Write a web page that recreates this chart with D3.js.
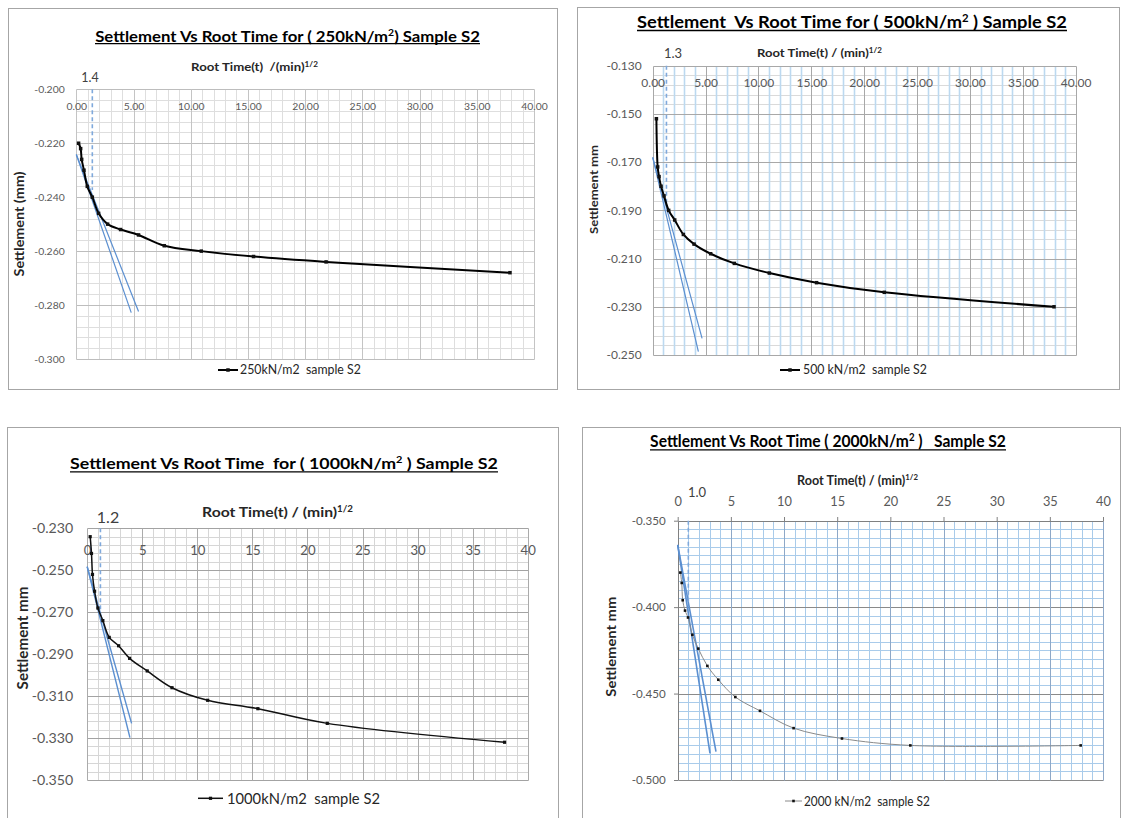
<!DOCTYPE html>
<html>
<head>
<meta charset="utf-8">
<script src="https://cdn.jsdelivr.net/npm/d3@7"></script>
<style>
  body { margin: 0; background: #fff; }
  svg { display: block; }
</style>
</head>
<body>
<svg id="chart" width="1126" height="818"></svg>
<script>
// ---- Readings: root time (min^1/2) and settlement (mm) for each load stage ----
const rootTime250 = [0.2, 0.38, 0.47, 0.67, 0.96, 1.4, 1.95, 2.74, 3.87, 5.44, 7.69, 10.92, 15.49, 21.83, 37.9];
const settlement250 = [-0.220, -0.222, -0.226, -0.230, -0.236, -0.240, -0.246, -0.250, -0.252, -0.254, -0.258, -0.260, -0.262, -0.264, -0.268];

const rootTime500 = [0.35, 0.47, 0.6, 0.79, 1.07, 1.51, 2.08, 2.9, 3.91, 5.48, 7.72, 11.03, 15.5, 21.9, 37.95];
const settlement500 = [-0.152, -0.172, -0.176, -0.180, -0.184, -0.190, -0.194, -0.200, -0.204, -0.208, -0.212, -0.216, -0.220, -0.224, -0.230];

const rootTime1000 = [0.27, 0.39, 0.48, 0.67, 0.97, 1.42, 2.0, 2.85, 3.85, 5.45, 7.7, 10.94, 15.5, 21.8, 37.9];
const settlement1000 = [-0.234, -0.242, -0.252, -0.260, -0.268, -0.274, -0.282, -0.286, -0.292, -0.298, -0.306, -0.312, -0.316, -0.323, -0.332];

const rootTime2000 = [0.25, 0.38, 0.47, 0.69, 0.97, 1.38, 1.94, 2.79, 3.82, 5.42, 7.74, 10.9, 15.45, 21.88, 37.9];
const settlement2000 = [-0.380, -0.386, -0.396, -0.402, -0.406, -0.416, -0.424, -0.434, -0.442, -0.452, -0.460, -0.470, -0.476, -0.480, -0.480];

// Taylor construction lines: initial tangent and the 1.15x line, as [root time, settlement] end points
const tangents250 = [[[0, -0.2242], [4.8, -0.2828]], [[0, -0.2242], [5.44, -0.2824]]];
const tangents500 = [[[0, -0.168], [4.32, -0.2486]], [[0, -0.168], [4.67, -0.2431]]];
const tangents1000 = [[[0, -0.2483], [3.88, -0.3298]], [[0, -0.2483], [4.03, -0.323]]];
const tangents2000 = [[[0, -0.364], [3.04, -0.4846]], [[0, -0.364], [3.6, -0.4836]]];

// Root time at 90% consolidation and the settlement where its guide stops
const t90Root = [1.4, 1.3, 1.2, 1.0];
const t90Settlement = [-0.2373, -0.1878, -0.269, -0.398];

// Axis tick values
const xTickValues = [0, 5, 10, 15, 20, 25, 30, 35, 40];
const xTickValuesMinor = d3.range(0, 41, 1);

// Text content
const titles = [
  ["Settlement Vs Root Time for ( 250kN/m", {sup: "2"}, ") Sample S2"],
  ["Settlement  Vs Root Time for ( 500kN/m", {sup: "2"}, " ) Sample S2"],
  ["Settlement Vs Root Time  for ( 1000kN/m", {sup: "2"}, " ) Sample S2"],
  ["Settlement Vs Root Time ( 2000kN/m", {sup: "2"}, " )   Sample S2"]
];
const xTitles = [
  ["Root Time(t)  /(min)", {sup: "1/2"}],
  ["Root Time(t) / (min)", {sup: "1/2"}],
  ["Root Time(t) / (min)", {sup: "1/2"}],
  ["Root Time(t) / (min)", {sup: "1/2"}]
];
const yTitles = ["Settlement (mm)", "Settlement mm", "Settlement mm", "Settlement mm"];
const legendNames = ["250kN/m2  sample S2", "500 kN/m2  sample S2", "1000kN/m2  sample S2", "2000 kN/m2  sample S2"];

// ---- Drawing ----
const FONT = "Lato, 'Open Sans', sans-serif";
const svg = d3.select("#chart");
const fmt = d3.formatLocale({decimal: ".", thousands: ",", grouping: [3], currency: ["", ""], minus: "-"});

// Text squeezed/stretched horizontally to a given width, optional superscripts and underline
function fittedText(parent, o) {
  const g = parent.append("g");
  const t = g.append("text")
    .attr("text-anchor", o.anchor || "middle")
    .attr("font-family", FONT)
    .attr("font-size", o.size)
    .attr("font-weight", o.weight || "bold")
    .attr("fill", o.fill || "#000")
    .attr("y", o.dy || 0)
    .style("white-space", "pre");
  let back = 0;
  o.segs.forEach(s => {
    const sp = t.append("tspan");
    if (typeof s === "string") {
      sp.text(s);
      if (back) { sp.attr("dy", back); back = 0; }
    } else {
      const d = -o.size * 0.38;
      sp.attr("font-size", o.size * 0.62).attr("dy", d).text(s.sup);
      back = -d;
    }
  });
  const w = t.node().getComputedTextLength();
  const k = o.width / w;
  g.attr("transform", `translate(${o.x},${o.y}) rotate(${o.rotate || 0}) scale(${k},1)`);
  if (o.ul) {
    const x0 = (o.anchor === "start") ? 0 : -w / 2;
    g.append("line")
      .attr("x1", x0).attr("x2", x0 + w)
      .attr("y1", o.ul).attr("y2", o.ul)
      .attr("stroke", o.fill || "#000").attr("stroke-width", 1.3);
  }
  return g;
}

function drawPanel(p) {
  const g = svg.append("g");
  g.append("rect")
    .attr("x", p.box[0] + 0.5).attr("y", p.box[1] + 0.5)
    .attr("width", p.box[2]).attr("height", p.box[3])
    .attr("fill", "#fff").attr("stroke", "#a6a6a6");

  const x = d3.scaleLinear().domain([0, 40]).range(p.xRange);
  const y = d3.scaleLinear().domain(p.yDomain).range(p.yRange);
  const px = v => Math.round(x(v)) + 0.5;
  const py = v => Math.round(y(v)) + 0.5;
  const [xa, xb] = [px(0), px(40)];
  const [ya, yb] = [py(p.yDomain[0]), py(p.yDomain[1])];

  const nY = Math.round((p.yDomain[0] - p.yDomain[1]) / p.yStep);
  const yVals = d3.range(nY + 1).map(i => +(p.yDomain[0] - i * p.yStep).toFixed(4));
  const yMinor = yVals.filter((v, i) => i % p.yEvery !== 0);
  const yMajor = yVals.filter((v, i) => i % p.yEvery === 0);
  const xMinor = xTickValuesMinor.filter(v => v % 5 !== 0);

  // gridlines
  const grid = g.append("g");
  grid.selectAll(null).data(yMinor).join("line")
    .attr("x1", xa).attr("x2", xb).attr("y1", py).attr("y2", py)
    .attr("stroke", p.grid.minorH).attr("stroke-width", 1);
  grid.selectAll(null).data(xMinor).join("line")
    .attr("x1", px).attr("x2", px).attr("y1", ya).attr("y2", yb)
    .attr("stroke", p.grid.minorV).attr("stroke-width", p.grid.minorVW || 1);
  grid.selectAll(null).data(yMajor).join("line")
    .attr("x1", xa).attr("x2", xb).attr("y1", py).attr("y2", py)
    .attr("stroke", p.grid.majorH).attr("stroke-width", 1);
  grid.selectAll(null).data(xTickValues).join("line")
    .attr("x1", px).attr("x2", px).attr("y1", ya).attr("y2", yb)
    .attr("stroke", p.grid.majorV).attr("stroke-width", 1);
  if (p.axisLine) {
    grid.append("line").attr("x1", xa).attr("x2", xb).attr("y1", ya).attr("y2", ya).attr("stroke", p.axisLine);
    grid.append("line").attr("x1", xa).attr("x2", xa).attr("y1", ya).attr("y2", yb).attr("stroke", p.axisLine);
  }

  // x axis labels along the top line
  const xAxis = (p.xAbove ? d3.axisTop(x) : d3.axisBottom(x))
    .tickValues(xTickValues).tickFormat(fmt.format(p.xFmt)).tickSize(p.tick || 0);
  const ax = g.append("g").attr("transform", `translate(0,${ya - 0.5})`).call(xAxis)
    .attr("font-family", FONT).attr("font-size", p.xFont);
  ax.select(".domain").remove();
  ax.selectAll(".tick line").attr("stroke", p.axisLine || "none");
  ax.selectAll("text").attr("fill", "#595959").attr("y", p.xBase - (ya - 0.5)).attr("dy", null);

  // y axis labels
  const yAxis = d3.axisLeft(y).tickValues(yMajor).tickFormat(fmt.format(".3f")).tickSize(p.tick || 0);
  const ay = g.append("g").attr("transform", `translate(${xa - 0.5},0)`).call(yAxis)
    .attr("font-family", FONT).attr("font-size", p.yFont);
  ay.select(".domain").remove();
  ay.selectAll(".tick line").attr("stroke", p.axisLine || "none");
  ay.selectAll("text").attr("fill", "#595959").attr("x", p.yRight - (xa - 0.5));

  // construction lines
  g.selectAll(null).data(p.tangents).join("line")
    .attr("x1", d => x(d[0][0])).attr("y1", d => y(d[0][1]))
    .attr("x2", d => x(d[1][0])).attr("y2", d => y(d[1][1]))
    .attr("stroke", p.tangentColor).attr("stroke-width", p.tangentWidth);

  // t90 guide
  g.append("line")
    .attr("x1", x(p.t90)).attr("x2", x(p.t90))
    .attr("y1", y(p.yDomain[0])).attr("y2", y(p.t90End))
    .attr("stroke", "#7fa9dc").attr("stroke-width", 1.6).attr("stroke-dasharray", "4,3");
  g.append("text")
    .attr("x", p.guideLabel[0]).attr("y", p.guideLabel[1])
    .attr("text-anchor", "middle").attr("font-family", FONT)
    .attr("font-size", p.guideLabel[2]).attr("fill", "#404040")
    .text(d3.format(".1f")(p.t90));

  // settlement curve
  const pts = p.xs.map((v, i) => [v, p.ys[i]]);
  g.append("path").datum(pts)
    .attr("fill", "none").attr("stroke", p.series.stroke).attr("stroke-width", p.series.width)
    .attr("stroke-linejoin", "round")
    .attr("d", d3.line().x(d => x(d[0])).y(d => y(d[1])).curve(d3.curveCatmullRom.alpha(0.5)));
  const m = p.series.marker;
  g.selectAll(null).data(pts).join("rect")
    .attr("x", d => x(d[0]) - m / 2).attr("y", d => y(d[1]) - m / 2)
    .attr("width", m).attr("height", m).attr("fill", "#111");

  // titles
  fittedText(g, {segs: p.title, x: p.titlePos[0], y: p.titlePos[1], width: p.titlePos[2], size: p.titlePos[3], ul: p.titlePos[4]});
  fittedText(g, {segs: p.xTitle, x: p.xTitlePos[0], y: p.xTitlePos[1], width: p.xTitlePos[2], size: p.xTitlePos[3], fill: "#262626"});
  fittedText(g, {segs: [p.yTitle], x: p.yTitlePos[0], y: p.yTitlePos[1], width: p.yTitlePos[2], size: p.yTitlePos[3],
    rotate: -90, dy: p.yTitlePos[3] * 0.35, fill: "#262626"});

  // legend
  const L = p.legend;
  g.append("line").attr("x1", L[0]).attr("x2", L[1]).attr("y1", L[2]).attr("y2", L[2])
    .attr("stroke", p.series.stroke).attr("stroke-width", p.series.width);
  g.append("rect").attr("x", (L[0] + L[1]) / 2 - m / 2).attr("y", L[2] - m / 2)
    .attr("width", m).attr("height", m).attr("fill", "#111");
  fittedText(g, {segs: [p.legendName], x: L[3], y: L[4], width: L[5], size: L[6], anchor: "start", weight: "normal", fill: "#262626"});
}

const panels = [
  {
    box: [8, 8, 549, 381],
    xRange: [76.3, 534], yDomain: [-0.200, -0.300], yRange: [89.3, 359], yStep: 0.004, yEvery: 5,
    xFmt: ".2f", xBase: 110, xFont: 10.4, yFont: 10.4, yRight: 64.7,
    grid: {minorH: "#dedede", minorV: "#dedede", majorH: "#bdbdbd", majorV: "#c4c4c4"},
    xs: rootTime250, ys: settlement250, tangents: tangents250, t90: t90Root[0], t90End: t90Settlement[0],
    tangentColor: "#5b8fd0", tangentWidth: 1.2,
    series: {stroke: "#000", width: 2, marker: 3.5},
    title: titles[0], titlePos: [287.5, 41.7, 385, 16, 2],
    xTitle: xTitles[0], xTitlePos: [254.5, 71, 127, 11.5],
    yTitle: yTitles[0], yTitlePos: [20, 224, 105, 12.5],
    guideLabel: [90, 81.7, 12.5],
    legendName: legendNames[0], legend: [218, 238, 370, 240, 374.3, 121, 12.5]
  },
  {
    box: [577, 7, 542, 382],
    xRange: [652.7, 1075.7], yDomain: [-0.130, -0.250], yRange: [65.7, 355], yStep: 0.004, yEvery: 5,
    xFmt: ".2f", xBase: 87, xFont: 12, yFont: 12, yRight: 641.7,
    grid: {minorH: "#dadada", minorV: "#bcd9f0", minorVW: 1.6, majorH: "#a8a8a8", majorV: "#a8a8a8"},
    xs: rootTime500, ys: settlement500, tangents: tangents500, t90: t90Root[1], t90End: t90Settlement[1],
    tangentColor: "#5b8fd0", tangentWidth: 1.2,
    series: {stroke: "#000", width: 2, marker: 3.5},
    title: titles[1], titlePos: [852, 28, 430, 17, 2.5],
    xTitle: xTitles[1], xTitlePos: [819.5, 57, 125, 11.5],
    yTitle: yTitles[1], yTitlePos: [593.5, 189.5, 89, 12],
    guideLabel: [673, 57.5, 13],
    legendName: legendNames[1], legend: [780, 800, 370, 803, 374.3, 124, 12.5]
  },
  {
    box: [7, 427, 551, 400],
    xRange: [87.2, 527.7], yDomain: [-0.230, -0.350], yRange: [528.3, 780], yStep: 0.004, yEvery: 5,
    xFmt: "d", xBase: 555, xFont: 13.2, yFont: 14.2, yRight: 73.3,
    grid: {minorH: "#d6d6d6", minorV: "#d6d6d6", majorH: "#a3a3a3", majorV: "#ababab"},
    xs: rootTime1000, ys: settlement1000, tangents: tangents1000, t90: t90Root[2], t90End: t90Settlement[2],
    tangentColor: "#5b8fd0", tangentWidth: 1.4,
    series: {stroke: "#111", width: 1.5, marker: 3.2},
    title: titles[2], titlePos: [284, 469.3, 428, 16, 2.5],
    xTitle: xTitles[2], xTitlePos: [277.5, 517.3, 151, 14],
    yTitle: yTitles[2], yTitlePos: [23, 638, 103, 14.5],
    guideLabel: [108, 523, 16],
    legendName: legendNames[2], legend: [198, 223, 798.3, 227, 804, 153, 15]
  },
  {
    box: [582, 427, 538, 400],
    xRange: [677.7, 1103], yDomain: [-0.350, -0.500], yRange: [520.7, 780], yStep: 0.005, yEvery: 10,
    xFmt: "d", xAbove: true, tick: 4, axisLine: "#808080",
    xBase: 506, xFont: 12.8, yFont: 11.6, yRight: 665.7,
    grid: {minorH: "#a9cbea", minorV: "#a9cbea", majorH: "#8a8a8a", majorV: "#8ea8c8"},
    xs: rootTime2000, ys: settlement2000, tangents: tangents2000, t90: t90Root[3], t90End: t90Settlement[3],
    tangentColor: "#5b8fd0", tangentWidth: 1.6,
    series: {stroke: "#8a8a8a", width: 1, marker: 2.6},
    title: titles[3], titlePos: [828, 447.3, 356, 17, 2.5],
    xTitle: xTitles[3], xTitlePos: [857.5, 485, 121, 13],
    yTitle: yTitles[3], yTitlePos: [611.5, 646.7, 100, 13.5],
    guideLabel: [697, 497, 13],
    legendName: legendNames[3], legend: [785, 802, 801, 804, 806, 126, 13]
  }
];

panels.forEach(drawPanel);
</script>
</body>
</html>
